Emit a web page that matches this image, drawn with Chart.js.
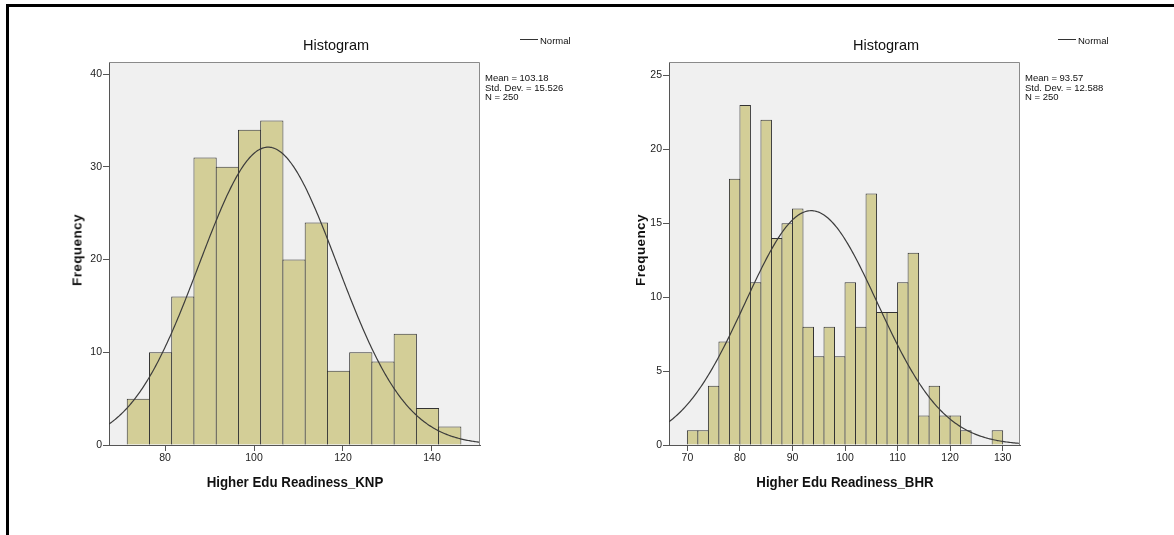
<!DOCTYPE html>
<html>
<head>
<meta charset="utf-8">
<script src="https://cdn.jsdelivr.net/npm/chart.js@4.4.1/dist/chart.umd.min.js"></script>
<style>
  body { margin: 0; background: #fff; }
  #page { position: relative; width: 1174px; height: 535px; overflow: hidden; font-family: "Liberation Sans", Arial, sans-serif; color: #111; }
  #frame { position: absolute; left: 6px; top: 4px; width: 1200px; height: 600px; border-top: 3px solid #000; border-left: 3px solid #000; }
  canvas { position: absolute; top: 0; }
  .t { position: absolute; white-space: nowrap; }
  .title { font-size: 14.5px; transform: translate(-50%, -50%); }
  .leg { font-size: 9.5px; transform: translateY(-50%); }
  .legline { position: absolute; height: 1px; background: #333; }
  .stats { font-size: 9.5px; line-height: 9.5px; }
  .ytitle { font-size: 13.5px; font-weight: bold; letter-spacing: 0.4px; transform: translate(-50%, -50%) rotate(-90deg); }
  .xtitle { font-size: 14px; font-weight: bold; transform: translate(-50%, -50%) scaleX(0.95); }
</style>
</head>
<body>
<div id="page">
  <canvas id="knp" width="590" height="535" style="left:0;width:590px;height:535px"></canvas>
  <canvas id="bhr" width="584" height="535" style="left:590px;width:584px;height:535px"></canvas>

  <div class="t title" style="left:336px;top:45px">Histogram</div>
  <div class="legline" style="left:520px;top:39px;width:18px"></div>
  <div class="t leg" style="left:540px;top:40px">Normal</div>
  <div class="t stats" style="left:485px;top:73px">Mean = 103.18<br>Std. Dev. = 15.526<br>N = 250</div>
  <div class="t ytitle" style="left:77px;top:250px">Frequency</div>
  <div class="t xtitle" style="left:295px;top:482px">Higher Edu Readiness_KNP</div>

  <div class="t title" style="left:886px;top:45px">Histogram</div>
  <div class="legline" style="left:1058px;top:39px;width:18px"></div>
  <div class="t leg" style="left:1078px;top:40px">Normal</div>
  <div class="t stats" style="left:1025px;top:73px">Mean = 93.57<br>Std. Dev. = 12.588<br>N = 250</div>
  <div class="t ytitle" style="left:640px;top:250px">Frequency</div>
  <div class="t xtitle" style="left:845px;top:482px">Higher Edu Readiness_BHR</div>

  <div id="frame"></div>
</div>
<script>
// Higher Edu Readiness_KNP: bins of width 5 starting at 71.5
const knpBinStart = 71.5;
const knpBinWidth = 5;
const knpCounts = [5, 10, 16, 31, 30, 34, 35, 20, 24, 8, 10, 9, 12, 4, 2];
const knpMean = 103.18, knpSD = 15.526, knpN = 250;
const knpXTicks = [80, 100, 120, 140];
const knpYTicks = [0, 10, 20, 30, 40];

// Higher Edu Readiness_BHR: bins of width 2 starting at 70
const bhrBinStart = 70;
const bhrBinWidth = 2;
const bhrCounts = [1, 1, 4, 7, 18, 23, 11, 22, 14, 15, 16, 8, 6, 8, 6, 11, 8, 17, 9, 9, 11, 13, 2, 4, 2, 2, 1, 0, 0, 1];
const bhrMean = 93.57, bhrSD = 12.588, bhrN = 250;
const bhrXTicks = [70, 80, 90, 100, 110, 120, 130];
const bhrYTicks = [0, 5, 10, 15, 20, 25];

const tickFont = "'Liberation Sans Narrow', 'Liberation Sans', Arial, sans-serif";

// normal curve scaled to counts: N * binWidth * pdf(x)
function normalCurve(mean, sd, n, bw, xmin, xmax) {
    const pts = [];
    for (let x = xmin; x <= xmax + 1e-9; x += 0.25) {
        const z = (x - mean) / sd;
        pts.push({x: x, y: n * bw * Math.exp(-0.5 * z * z) / (sd * Math.sqrt(2 * Math.PI))});
    }
    return pts;
}

const plotBg = {
    id: 'plotBg',
    beforeDraw(chart) {
        const {ctx, chartArea: a} = chart;
        ctx.save();
        ctx.fillStyle = '#f0f0f0';
        ctx.fillRect(a.left, a.top, a.right - a.left, a.bottom - a.top);
        ctx.restore();
    },
    afterDraw(chart) {
        const {ctx, chartArea: a} = chart;
        ctx.save();
        ctx.strokeStyle = '#8a8a8a';
        ctx.lineWidth = 1;
        ctx.beginPath();
        ctx.moveTo(a.left, a.top + 0.5);
        ctx.lineTo(a.right - 0.5, a.top + 0.5);
        ctx.lineTo(a.right - 0.5, a.bottom);
        ctx.stroke();
        ctx.restore();
    }
};

function histogram(el, cfg) {
    const bars = cfg.counts.map((c, i) => ({x: cfg.binStart + cfg.binWidth * (i + 0.5), y: c}));
    return new Chart(el, {
        data: {
            datasets: [{
                type: 'line',
                order: 0,
                data: normalCurve(cfg.mean, cfg.sd, cfg.n, cfg.binWidth, cfg.xMin, cfg.xMax),
                borderColor: '#3c3c3c',
                borderWidth: 1.2,
                pointRadius: 0,
                tension: 0,
            }, {
                type: 'bar',
                order: 1,
                data: bars,
                backgroundColor: '#d3ce97',
                borderColor: '#333',
                borderWidth: 1,
                categoryPercentage: 1,
                barPercentage: cfg.barPct,
            }]
        },
        options: {
            responsive: false,
            animation: false,
            events: [],
            layout: {padding: cfg.padding},
            plugins: {legend: {display: false}, tooltip: {enabled: false}},
            scales: {
                x: {
                    type: 'linear',
                    offset: false,
                    min: cfg.xMin,
                    max: cfg.xMax,
                    afterBuildTicks: s => { s.ticks = cfg.xTicks.map(v => ({value: v})); },
                    afterFit: s => { s.height = 30; },
                    grid: {display: true, offset: false, drawOnChartArea: false, tickLength: 6, color: '#555'},
                    border: {display: true, color: '#555', width: 1},
                    ticks: {font: {family: tickFont, size: 10.5}, color: '#222', padding: 1, maxRotation: 0},
                },
                y: {
                    type: 'linear',
                    min: 0,
                    max: cfg.yMax,
                    afterBuildTicks: s => { s.ticks = cfg.yTicks.map(v => ({value: v})); },
                    afterFit: s => { s.width = 40; },
                    grid: {display: true, drawOnChartArea: false, tickLength: 6, color: '#555'},
                    border: {display: true, color: '#555', width: 1},
                    ticks: {font: {family: tickFont, size: 10.5}, color: '#222', padding: 1},
                }
            }
        },
        plugins: [plotBg]
    });
}

histogram(document.getElementById('knp'), {
    counts: knpCounts, binStart: knpBinStart, binWidth: knpBinWidth,
    mean: knpMean, sd: knpSD, n: knpN,
    xTicks: knpXTicks, yTicks: knpYTicks,
    xMin: 67.4, xMax: 150.8, yMax: 41.3,
    barPct: 1.045,
    padding: {left: 69, top: 62, right: 110, bottom: 60}
});

histogram(document.getElementById('bhr'), {
    counts: bhrCounts, binStart: bhrBinStart, binWidth: bhrBinWidth,
    mean: bhrMean, sd: bhrSD, n: bhrN,
    xTicks: bhrXTicks, yTicks: bhrYTicks,
    xMin: 66.5, xMax: 133.3, yMax: 25.9,
    barPct: 1.095,
    padding: {left: 39, top: 62, right: 154, bottom: 60}
});
</script>
</body>
</html>
